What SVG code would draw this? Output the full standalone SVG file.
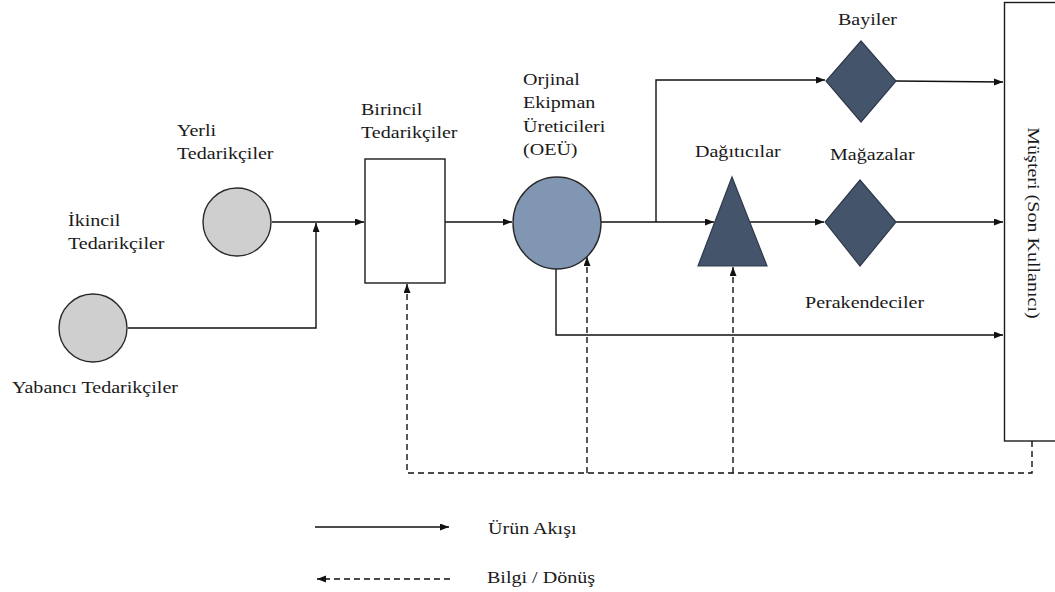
<svg xmlns="http://www.w3.org/2000/svg" width="1055" height="592" viewBox="0 0 1055 592">
  <style>
    text { font-family: "Liberation Serif", "Times New Roman", serif; font-size: 17px; fill: #1a1a1a; }
    .flow { fill: none; stroke: #111; stroke-width: 1.4; }
    .info { fill: none; stroke: #111; stroke-width: 1.4; stroke-dasharray: 6 4; }
    .supplier { fill: #d0cfcf; stroke: #2a2a2a; stroke-width: 1.4; }
    .oem { fill: #8196b3; stroke: #2a2a2a; stroke-width: 1.4; }
    .channel { fill: #44546a; stroke: #2e3a4c; stroke-width: 1.2; }
    .box { fill: #fff; stroke: #1a1a1a; stroke-width: 1.4; }
  </style>
  <defs>
    <marker id="head" markerUnits="userSpaceOnUse" markerWidth="10" markerHeight="8" refX="9" refY="3.5" orient="auto">
      <path d="M0,0 L9,3.5 L0,7 z" fill="#111"/>
    </marker>
  </defs>

  <!-- connectors -->
  <g id="connectors">
    <!-- product flow -->
    <path class="flow" d="M272,222 H364" marker-end="url(#head)"/>
    <path class="flow" d="M128,328 H316 V223" marker-end="url(#head)"/>
    <path class="flow" d="M445,222 H512" marker-end="url(#head)"/>
    <path class="flow" d="M601,222 H714" marker-end="url(#head)"/>
    <path class="flow" d="M656,222 V80 H825" marker-end="url(#head)"/>
    <path class="flow" d="M896,81 L1003,82" marker-end="url(#head)"/>
    <path class="flow" d="M750,222 H824" marker-end="url(#head)"/>
    <path class="flow" d="M896,222 H1003" marker-end="url(#head)"/>
    <path class="flow" d="M556,269 V335 H1003" marker-end="url(#head)"/>
    <!-- information / returns -->
    <path class="info" d="M1032,441 V473 H407 V284" marker-end="url(#head)"/>
    <path class="info" d="M587,473 V257" marker-end="url(#head)"/>
    <path class="info" d="M733,473 V267" marker-end="url(#head)"/>
  </g>

  <!-- nodes; labels are set in a Times-metric serif, slightly widened -->
  <g id="yerli">
    <circle class="supplier" cx="237" cy="222" r="34"/>
    <text transform="translate(177,136) scale(1.18,1)">Yerli</text>
    <text transform="translate(177,159) scale(1.18,1)">Tedarikçiler</text>
  </g>
  <g id="ikincil">
    <text transform="translate(68,226) scale(1.18,1)">İkincil</text>
    <text transform="translate(68,249) scale(1.18,1)">Tedarikçiler</text>
  </g>
  <g id="yabanci">
    <circle class="supplier" cx="93" cy="328" r="34"/>
    <text transform="translate(12,393) scale(1.18,1)">Yabancı Tedarikçiler</text>
  </g>
  <g id="birincil">
    <rect class="box" x="365" y="159" width="80" height="124"/>
    <text transform="translate(361,115) scale(1.18,1)">Birincil</text>
    <text transform="translate(361,138) scale(1.18,1)">Tedarikçiler</text>
  </g>
  <g id="oeu">
    <ellipse class="oem" cx="557" cy="223" rx="44" ry="46"/>
    <text transform="translate(523,85) scale(1.18,1)">Orjinal</text>
    <text transform="translate(523,108) scale(1.18,1)">Ekipman</text>
    <text transform="translate(523,132) scale(1.18,1)">Üreticileri</text>
    <text transform="translate(523,155) scale(1.18,1)">(OEÜ)</text>
  </g>
  <g id="dagiticilar">
    <path class="channel" d="M732,177 L767,266 L698,266 z"/>
    <text transform="translate(695,157) scale(1.18,1)">Dağıtıcılar</text>
  </g>
  <g id="bayiler">
    <path class="channel" d="M861,41 L896,81 L861,122 L826,81 z"/>
    <text transform="translate(838,25) scale(1.18,1)">Bayiler</text>
  </g>
  <g id="magazalar">
    <path class="channel" d="M860,180 L896,222 L860,266 L825,222 z"/>
    <text transform="translate(830,160) scale(1.18,1)">Mağazalar</text>
  </g>
  <g id="perakendeciler">
    <text transform="translate(805,308) scale(1.18,1)">Perakendeciler</text>
  </g>
  <g id="musteri">
    <rect class="box" x="1004.5" y="2.5" width="70" height="438.5"/>
    <text transform="translate(1028,223) rotate(90) scale(1.18,1)" text-anchor="middle">Müşteri (Son Kullanıcı)</text>
  </g>

  <!-- legend -->
  <g id="legend">
    <path class="flow" d="M315,527 H449" marker-end="url(#head)"/>
    <text transform="translate(488,534) scale(1.18,1)">Ürün Akışı</text>
    <path class="info" d="M450,579 H317" stroke-dasharray="4 2" marker-end="url(#head)"/>
    <text transform="translate(487,583) scale(1.18,1)">Bilgi / Dönüş</text>
  </g>
</svg>
